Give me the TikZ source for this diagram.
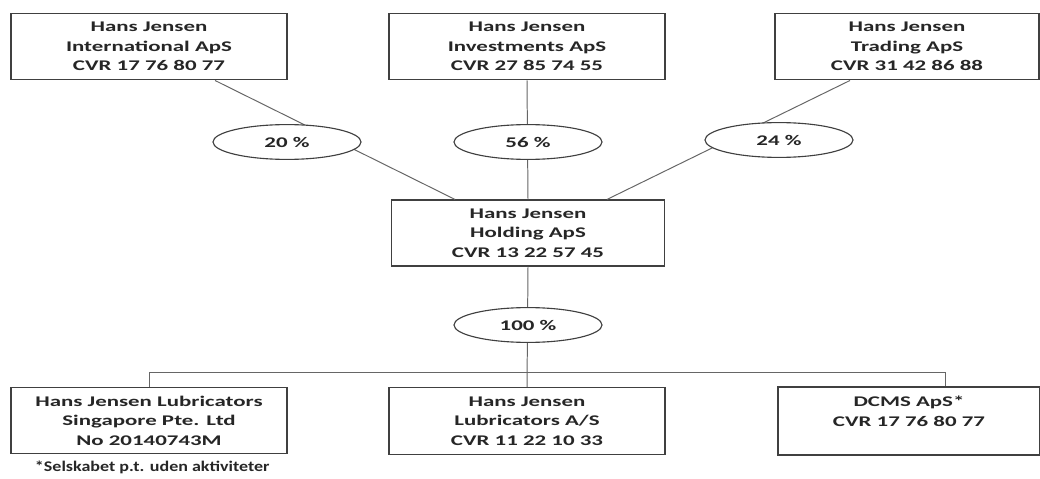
\documentclass[tikz,border=0pt]{standalone}
\usepackage{fontspec}
\setmainfont[FakeStretch=1.55, BoldFeatures={FakeStretch=1.55}]{Carlito}
\newfontfamily\notefont[FakeStretch=1.22, BoldFeatures={FakeStretch=1.22}]{Carlito}
\usetikzlibrary{shapes.geometric, positioning, calc}

\begin{document}
\begin{tikzpicture}[
    x=0.025cm, y=-0.025cm,
    every node/.style={font=\fontsize{10.5}{13.9}\selectfont\bfseries, text=black!85},
    company/.style={
        rectangle,
        draw=black!75,
        line width=0.8pt,
        fill=white,
        minimum width=6.9cm,
        minimum height=1.67cm,
        align=center,
        inner sep=2pt
    },
    share/.style={
        ellipse,
        draw=black!75,
        line width=0.8pt,
        fill=white,
        minimum width=3.7cm,
        minimum height=0.87cm,
        inner sep=0pt
    },
    link/.style={
        draw=black!60,
        line width=0.7pt
    }
]
\useasboundingbox (0,0) rectangle (1040,479);

% ============================================
% Owners
% ============================================
\node[company] (intl) at (149,46.5) {Hans Jensen\\International ApS\\CVR 17 76 80 77};
\node[company] (invest) at (527,46.5) {Hans Jensen\\Investments ApS\\CVR 27 85 74 55};
\node[company, minimum width=6.6cm] (trading) at (907,46.5) {Hans Jensen\\Trading ApS\\CVR 31 42 86 88};

% ============================================
% Holding
% ============================================
\node[company, minimum width=6.82cm, minimum height=1.65cm] (holding) at (528,233) {Hans Jensen\\Holding ApS\\CVR 13 22 57 45};

% ============================================
% Subsidiaries
% ============================================
\node[company, minimum height=1.63cm] (lubsg) at (149,420.5) {Hans Jensen Lubricators\\Singapore Pte. Ltd\\No 20140743M};
\node[company] (lubas) at (527,421) {Hans Jensen\\Lubricators A/S\\CVR 11 22 10 33};
\node[company, minimum width=6.55cm, minimum height=1.7cm] (dcms) at (909,421) {DCMS ApS*\\CVR 17 76 80 77\\\phantom{X}};

% Connectors
\draw[link] ([xshift=1.65cm]intl.south) -- ([xshift=-1.825cm]holding.north);
\draw[link] (invest.south) -- (holding.north);
\draw[link] ([xshift=-1.425cm]trading.south) -- ([xshift=1.975cm]holding.north);
\draw[link] (holding.south) -- (lubas.north);
\draw[link] (lubsg.north) -- ++(0,-15) -| ([xshift=0.9cm]dcms.north);

% Shares
\node[share] (p20) at (287,142) {20 \%};
\node[share] (p56) at (528,142) {56 \%};
\node[share] (p24) at (779,140) {24 \%};
\node[share] (p100) at (528,325) {100 \%};

\node[anchor=west, font=\notefont\fontsize{10.5}{13.9}\selectfont\bfseries] (note) at (30,467) {*Selskabet p.t. uden aktiviteter};

\end{tikzpicture}
\end{document}
